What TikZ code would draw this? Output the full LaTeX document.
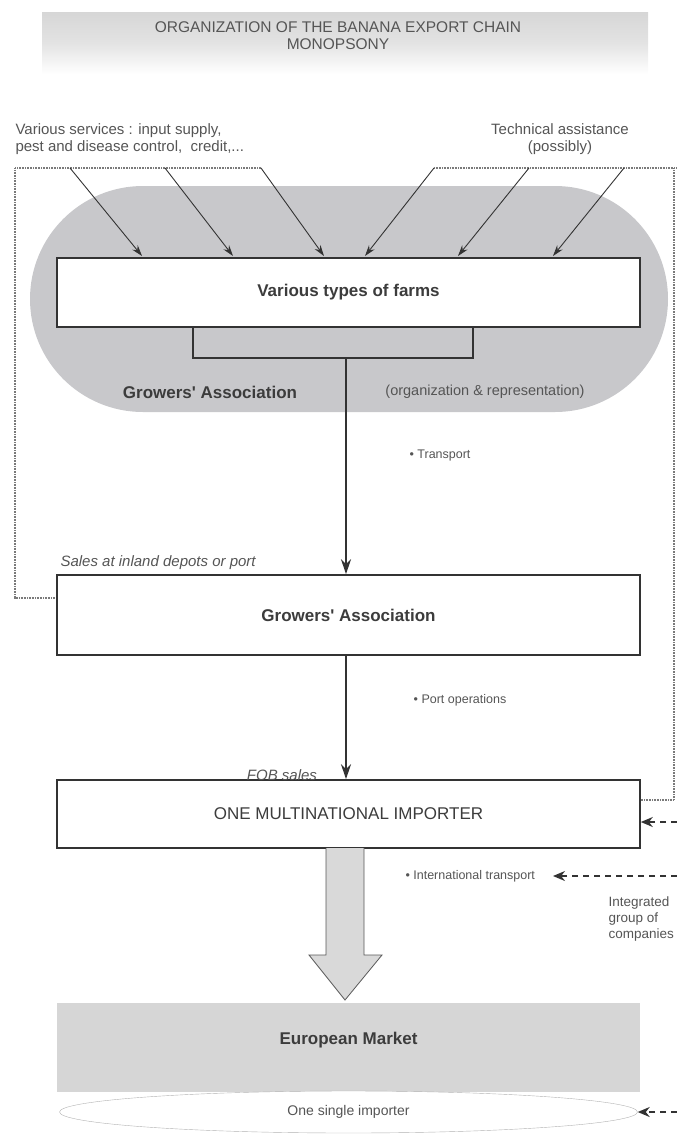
\documentclass[tikz,border=0pt]{standalone}
\usepackage{fontspec}
\setmainfont{Liberation Sans}
\usetikzlibrary{arrows.meta,calc,shapes.geometric}
\definecolor{ink}{HTML}{333333}
\definecolor{txt}{HTML}{3C3C3C}
\definecolor{soft}{HTML}{555555}
\definecolor{blobgray}{HTML}{C8C8CB}
\definecolor{bandgray}{HTML}{D6D6D6}
\definecolor{dotgray}{HTML}{7A7A7A}
\begin{document}
\begin{tikzpicture}[x=1pt,y=-1pt,
  box/.style={draw=ink,line width=1.6pt,fill=white,minimum width=583pt,inner sep=0pt,text=txt},
  bigbold/.style={font=\fontsize{17}{20}\selectfont\bfseries,text=txt},
  bigreg/.style={font=\fontsize{17}{20}\selectfont,text=txt},
  label14/.style={font=\fontsize{15}{17}\selectfont,text=soft},
  label13/.style={font=\fontsize{12.5}{15}\selectfont,text=soft},
  ital/.style={font=\fontsize{15}{18}\selectfont\itshape,text=soft},
  dotline/.style={draw=dotgray,line width=1.3pt,dash pattern=on 0.9pt off 0.7pt},
  svcarrow/.style={draw=ink,line width=0.9pt,-{Stealth[length=11pt,width=7pt]}},
  flow/.style={draw=ink,line width=1.6pt,-{Stealth[length=15pt,width=10pt]}},
  dasharrow/.style={draw=ink,line width=1.6pt,dash pattern=on 6pt off 5pt,-{Stealth[length=12pt,width=10pt]}}]
\useasboundingbox (0,0) rectangle (677,1141);
% title band
\shade[top color=gray!32, bottom color=white, middle color=gray!22] (42,12) rectangle (648,74);
\node[font=\fontsize{15.5}{17}\selectfont,text=soft,align=center] (title) at (338,36)
  {ORGANIZATION OF THE BANANA EXPORT CHAIN\\MONOPSONY};
% top labels
\node[label14,align=left,anchor=west] (svc) at (12,139)
  {Various services : input supply,\\pest and disease control,\ \ credit,...};
\node[label14,align=center] (tech) at (560,139) {Technical assistance\\(possibly)};
% grey blob
\node[fill=blobgray,rounded corners=113pt,minimum width=638pt,minimum height=226pt,inner sep=0pt] (blob) at (349,299) {};
% farms box
\node[box,minimum height=69pt,bigbold] (farms) at (348.5,292.5) {Various types of farms};
% bracket
\coordinate (bl) at (193,358);
\coordinate (br) at (473,358);
\coordinate (bmid) at (346,358);
\draw[ink,line width=1.6pt] (bl |- farms.south) -- (bl) -- (br) -- (br |- farms.south);
\node[bigbold] (galbl) at (210,392) {Growers\textquotesingle\ Association};
\node[font=\fontsize{14.5}{17}\selectfont,text=soft] (orglbl) at (485,392) {(organization \& representation)};
% dotted service frame
\coordinate (dl) at (15,168);
\coordinate (dla) at (261,168);
\coordinate (dra) at (434,168);
\coordinate (dr) at (674,168);
\coordinate (dre) at (677,168);
\coordinate (dlb) at (15,598);
\draw[dotline] (dla) -- (dl) -- (dlb) -- (57,598);
\draw[dotline] (dra) -- (dre);
% service arrows
\coordinate (s1) at (70,168);  \coordinate (t1) at (142,256);
\coordinate (s2) at (165,168); \coordinate (t2) at (233,256);
\coordinate (s3) at (261,168); \coordinate (t3) at (324,256);
\coordinate (s4) at (434,168); \coordinate (t4) at (365,256);
\coordinate (s5) at (529,168); \coordinate (t5) at (458,256);
\coordinate (s6) at (624,168); \coordinate (t6) at (553,256);
\foreach \i in {1,...,6} {\draw[svcarrow] (s\i) -- (t\i);}
% second box
\node[ital,anchor=south west] (sales) at (57,573) {Sales at inland depots or port};
\node[box,minimum height=80pt,bigbold] (ga2) at (348.5,615) {Growers\textquotesingle\ Association};
\draw[flow] (bmid) -- (bmid |- ga2.north);
\node[label13] (transp) at (440,455) {\textbullet\ Transport};
% third box
\node[box,minimum height=68pt,bigreg] (mni) at (348.5,814) {ONE MULTINATIONAL IMPORTER};
\draw[flow] (bmid |- ga2.south) -- (bmid |- mni.north);
\node[label13] (portop) at (460,700) {\textbullet\ Port operations};
\node[ital,anchor=south] (fob) at (282,784) {FOB sales};
% right dotted and dashed
\coordinate (rd) at (674,800);
\draw[dotline] (mni.east |- rd) -- (rd) -- (dr);
\coordinate (e1) at (677,822);
\draw[dasharrow] (e1) -- (mni.east |- e1);
% block arrow
\draw[draw=gray!70!black,fill=gray!30,line width=0.8pt]
  (326,848) -- (326,955) -- (309,955) -- (345,1000) -- (382,955) -- (364,955) -- (364,848);
\node[label13,anchor=west] (intl) at (402,876) {\textbullet\ International transport};
\coordinate (e2) at (677,876);
\coordinate (t7) at (553,876);
\draw[dasharrow] (e2) -- (t7);
\node[font=\fontsize{13.5}{16}\selectfont,text=soft,align=left,anchor=north west] (integ) at (605,893) {Integrated\\group of\\companies};
% European market
\node[fill=bandgray,minimum width=583pt,minimum height=89pt,inner sep=0pt] (eu) at (348.5,1047) {};
\node[bigbold] (eulbl) at (348.5,1040) {European Market};
\node[draw=gray!60,fill=white,ellipse,minimum width=578pt,minimum height=42pt,inner sep=0pt,font=\fontsize{14}{16}\selectfont,text=soft] (single) at (348.5,1112) {One single importer};
\coordinate (e3) at (677,1112);
\draw[dasharrow] (e3) -- (single.east);
\end{tikzpicture}
\end{document}
